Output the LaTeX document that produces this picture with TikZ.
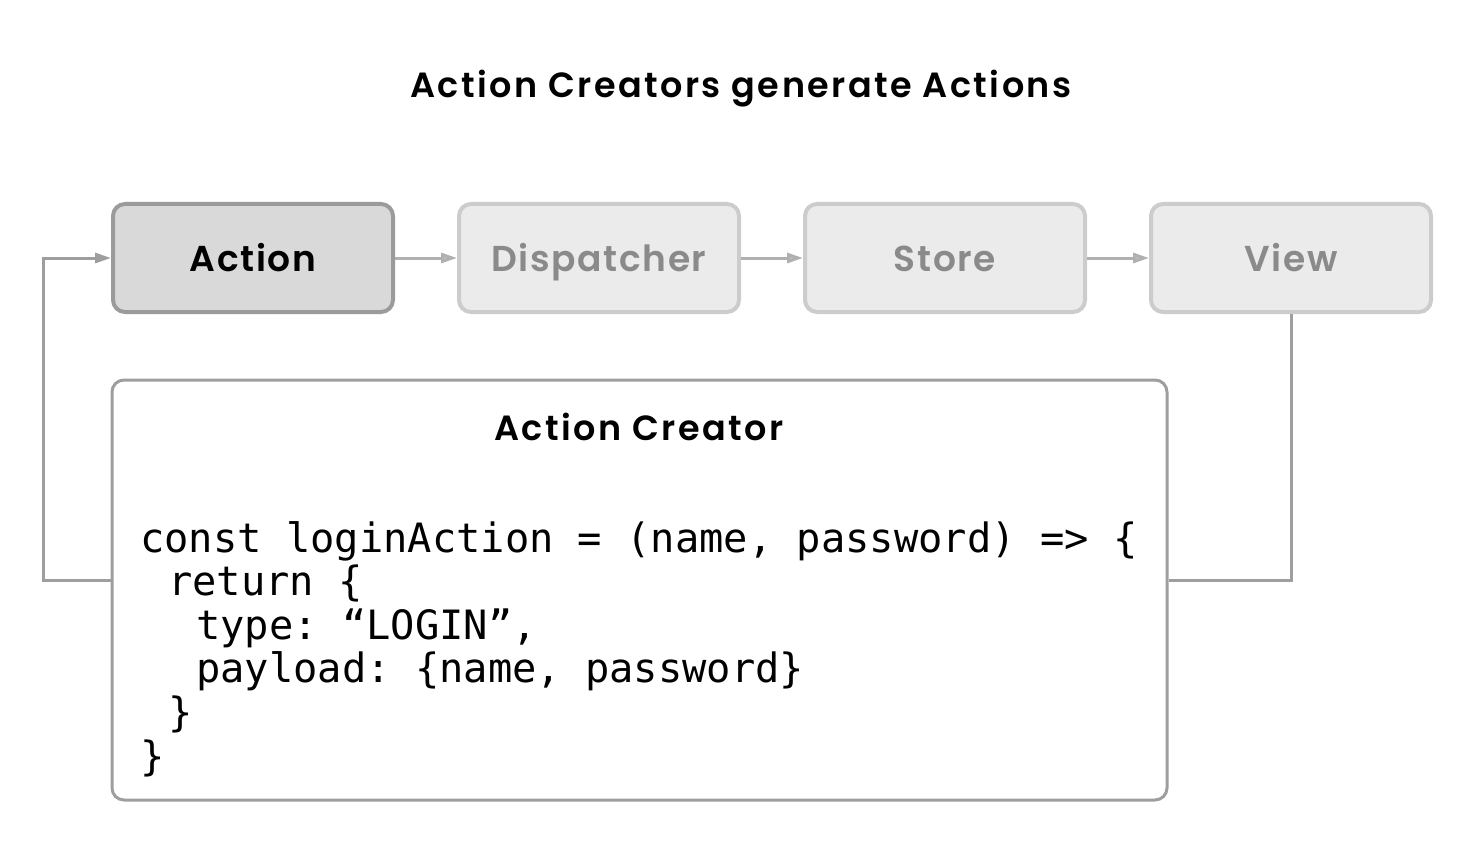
\documentclass[tikz,border=0pt]{standalone}
\usepackage{fontspec}
\setsansfont{Poppins}[BoldFont={Poppins SemiBold}]
\setmonofont{DejaVu Sans Mono}
\usetikzlibrary{positioning,arrows.meta}

\definecolor{actfill}{HTML}{D9D9D9}
\definecolor{actline}{HTML}{9B9B9B}
\definecolor{offfill}{HTML}{EBEBEB}
\definecolor{offline}{HTML}{CCCCCC}
\definecolor{offtext}{HTML}{8A8A8A}
\definecolor{linkgray}{HTML}{B0B0B0}
\definecolor{backgray}{HTML}{9E9E9E}

\tikzset{
  flowbox/.style={rectangle, draw=offline, fill=offfill, text=offtext,
                  rounded corners=12pt, line width=4pt,
                  minimum width=280pt, minimum height=108pt,
                  text height=26pt, text depth=0pt,
                  font=\sffamily\bfseries\fontsize{36}{40}\selectfont
                       \addfontfeatures{LetterSpace=4.5}},
  activebox/.style={flowbox, draw=actline, fill=actfill, text=black},
  flowlink/.style={draw=linkgray, line width=3pt,
                   -{Triangle[length=16pt,width=10pt,fill=linkgray!80]}},
  backlink/.style={draw=backgray, line width=3pt},
  headline/.style={font=\sffamily\bfseries\fontsize{35}{40}\selectfont
                        \addfontfeatures{LetterSpace=7}},
}

\begin{document}
\begin{tikzpicture}[x=1pt, y=-1pt]
\useasboundingbox (0,0) rectangle (1471,842);

\node[headline] (title) at (741,89) {Action Creators generate Actions};

% flux chain
\node[activebox] (action) at (253,258) {Action};
\node[flowbox, right=62pt of action] (dispatcher) {Dispatcher};
\node[flowbox, right=62pt of dispatcher] (store) {Store};
\node[flowbox, right=62pt of store] (view) {View};

\draw[flowlink] (action) -- (dispatcher);
\draw[flowlink] (dispatcher) -- (store);
\draw[flowlink] (store) -- (view);

% action creator box
\node[draw=backgray, line width=3pt, rounded corners=12pt,
      minimum width=1055pt, minimum height=420pt] (creator) at (639.5,590) {};
\node[headline] (creatortitle) at (639,427) {Action Creator};
\node[anchor=north west, inner sep=0pt, align=left,
      font=\ttfamily\fontsize{40.4}{43.6}\selectfont] (code) at (140,521)
  {const loginAction = (name, password) => \{\\
   \hspace*{28pt}return \{\\
   \hspace*{56pt}type: “LOGIN”,\\
   \hspace*{56pt}payload: \{name, password\}\\
   \hspace*{28pt}\}\\
   \}};

% feedback loop
\draw[backlink] (view.south) |- ([yshift=10pt]creator.east);
\draw[backlink, -{Triangle[length=16pt,width=10pt]}]
  ([yshift=10pt]creator.west) -- ++(-67,0) |- (action.west);
\end{tikzpicture}
\end{document}
